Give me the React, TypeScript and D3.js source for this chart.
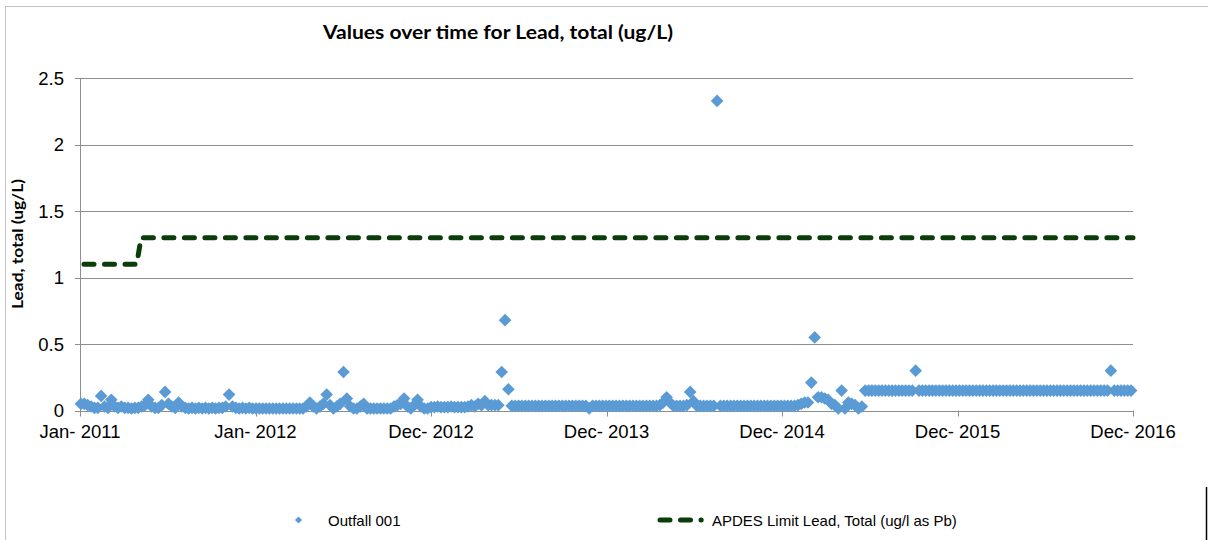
import React from "react";
import * as d3 from "d3";

// ---- Data ----
const TITLE = "Values over time for Lead, total (ug/L)";
const Y_LABEL = "Lead, total (ug/L)";
const SERIES_OUTFALL = "Outfall 001";
const SERIES_LIMIT = "APDES Limit Lead, Total (ug/l as Pb)";

// weekly samples starting 2011-01-03
const sampleStart = "2011-01-03";
const sampleStepDays = 7;

const vals2011 = [
  0.05, 0.05, 0.04, 0.03, 0.02, 0.02, 0.11, 0.03, 0.02, 0.08,
  0.03, 0.02, 0.03, 0.02, 0.02, 0.015, 0.02, 0.02, 0.03, 0.04,
  0.08, 0.03, 0.02, 0.02, 0.04, 0.14, 0.05, 0.03, 0.02, 0.06,
  0.03, 0.02, 0.015, 0.02, 0.015, 0.02, 0.015, 0.02, 0.015, 0.02,
  0.015, 0.02, 0.02, 0.03, 0.12, 0.03, 0.02, 0.015, 0.02, 0.015,
  0.02, 0.015,
];
const vals2012 = [
  0.015, 0.015, 0.015, 0.015, 0.015, 0.015, 0.015, 0.015, 0.015, 0.015,
  0.015, 0.015, 0.015, 0.015, 0.015, 0.03, 0.06, 0.03, 0.015, 0.03,
  0.05, 0.12, 0.04, 0.015, 0.03, 0.05, 0.29, 0.09, 0.03, 0.015,
  0.015, 0.03, 0.05, 0.015, 0.015, 0.015, 0.015, 0.015, 0.015, 0.015,
  0.015, 0.03, 0.04, 0.05, 0.09, 0.03, 0.015, 0.04, 0.08, 0.03,
  0.015, 0.015,
];
const vals2013 = [
  0.025, 0.025, 0.03, 0.025, 0.025, 0.025, 0.03, 0.025, 0.025, 0.025,
  0.025, 0.03, 0.04, 0.03, 0.05, 0.04, 0.07, 0.04, 0.04, 0.04,
  0.04, 0.29, 0.68, 0.16, 0.035, 0.035, 0.035, 0.035, 0.035, 0.035,
  0.035, 0.035, 0.035, 0.035, 0.035, 0.035, 0.035, 0.035, 0.035, 0.035,
  0.035, 0.035, 0.035, 0.035, 0.035, 0.035, 0.035, 0.015, 0.035, 0.035,
  0.035, 0.035,
];
const vals2014 = [
  0.035, 0.035, 0.035, 0.035, 0.035, 0.035, 0.035, 0.035, 0.035, 0.035,
  0.035, 0.035, 0.035, 0.035, 0.035, 0.035, 0.04, 0.06, 0.1, 0.06,
  0.035, 0.035, 0.035, 0.035, 0.04, 0.14, 0.07, 0.035, 0.035, 0.035,
  0.035, 0.035, 0.035, 2.33, 0.035, 0.035, 0.035, 0.035, 0.035, 0.035,
  0.035, 0.035, 0.035, 0.035, 0.035, 0.035, 0.035, 0.035, 0.035, 0.035,
  0.035, 0.035,
];
const vals2015 = [
  0.035, 0.035, 0.035, 0.035, 0.035, 0.04, 0.05, 0.06, 0.06, 0.21,
  0.55, 0.1, 0.1, 0.09, 0.08, 0.05, 0.04, 0.015, 0.15, 0.015,
  0.06, 0.05, 0.04, 0.015, 0.03, 0.15, 0.15, 0.15, 0.15, 0.15,
  0.15, 0.15, 0.15, 0.15, 0.15, 0.15, 0.15, 0.15, 0.15, 0.15,
  0.3, 0.15, 0.15, 0.15, 0.15, 0.15, 0.15, 0.15, 0.15, 0.15,
  0.15, 0.15,
];
const vals2016 = [
  0.15, 0.15, 0.15, 0.15, 0.15, 0.15, 0.15, 0.15, 0.15, 0.15,
  0.15, 0.15, 0.15, 0.15, 0.15, 0.15, 0.15, 0.15, 0.15, 0.15,
  0.15, 0.15, 0.15, 0.15, 0.15, 0.15, 0.15, 0.15, 0.15, 0.15,
  0.15, 0.15, 0.15, 0.15, 0.15, 0.15, 0.15, 0.15, 0.15, 0.15,
  0.15, 0.15, 0.15, 0.15, 0.15, 0.15, 0.3, 0.15, 0.15, 0.15,
  0.15, 0.15, 0.15,
];

const limitDates = ["2011-01-01", "2011-04-29", "2011-05-08", "2016-12-30"];
const limitValues = [1.1, 1.1, 1.3, 1.3];

const xDomain = ["2011-01-01", "2016-12-30"];
const xTickDates = ["2011-01-01", "2012-01-01", "2012-12-31", "2013-12-31", "2014-12-31", "2015-12-31", "2016-12-30"];
const yTicks = [0, 0.5, 1, 1.5, 2, 2.5];
const yTickLabels = ["0", "0.5", "1", "1.5", "2", "2.5"];

// ---- Helpers ----
const parse = d3.utcParse("%Y-%m-%d");
const fmt = d3.utcFormat("%b- %Y");

export default function App() {
  const W = 1208, H = 540;
  const left = 80, right = 1133, top = 78.3, bottom = 410.5;

  const x = d3.scaleUtc().domain(xDomain.map((d) => parse(d) as Date)).range([left, right]);
  const y = d3.scaleLinear().domain([0, 2.5]).range([bottom, top]);

  const allVals = [...vals2011, ...vals2012, ...vals2013, ...vals2014, ...vals2015, ...vals2016];
  const start = parse(sampleStart) as Date;
  const samples = allVals.map((v, i) => ({ date: d3.utcDay.offset(start, i * sampleStepDays), value: v }));

  const limit = limitDates.map((d, i) => ({ date: parse(d) as Date, value: limitValues[i] }));
  const line = d3.line<{ date: Date; value: number }>().x((d) => x(d.date)).y((d) => y(d.value));

  const diamond = d3.symbol().type(d3.symbolSquare).size(80)() as string;
  const legendDiamond = d3.symbol().type(d3.symbolSquare).size(26)() as string;

  const grid = "#8e8e8e";
  const blue = "#5B9BD5";
  const green = "#0a3d0a";
  const sans = "'Liberation Sans', Arial, sans-serif";
  const bold = "Lato, 'Open Sans', sans-serif";

  return (
    <svg width={W} height={H} style={{ position: "absolute", left: 0, top: 0, background: "#fff" }}>
      <rect x={0} y={0} width={W} height={H} fill="#fff" />
      <rect x={5.5} y={6.5} width={1300} height={700} fill="none" stroke="#c4c4c4" strokeWidth={1} />
      <line x1={1206.5} x2={1206.5} y1={487} y2={540} stroke="#000" strokeWidth={1.5} />

      <text x={498} y={38.5} textAnchor="middle" fontFamily={bold} fontWeight={700} fontSize={18}
        textLength={350} lengthAdjust="spacingAndGlyphs" fill="#000">{TITLE}</text>

      {/* gridlines */}
      {yTicks.slice(1).map((t) => (
        <line key={t} x1={left} x2={right} y1={Math.round(y(t)) + 0.5} y2={Math.round(y(t)) + 0.5} stroke={grid} strokeWidth={1} />
      ))}
      {/* axes */}
      <line x1={left + 0.5} x2={left + 0.5} y1={top} y2={bottom + 0.5} stroke={grid} strokeWidth={1} />
      <line x1={left} x2={right} y1={Math.round(bottom) + 0.5} y2={Math.round(bottom) + 0.5} stroke={grid} strokeWidth={1} />
      {yTicks.map((t, i) => (
        <g key={t}>
          <line x1={left - 5} x2={left} y1={Math.round(y(t)) + 0.5} y2={Math.round(y(t)) + 0.5} stroke={grid} />
          <text x={64} y={y(t) + 6.5} textAnchor="end" fontFamily={sans} fontSize={18.5} fill="#000">{yTickLabels[i]}</text>
        </g>
      ))}
      {xTickDates.map((d) => {
        const dt = parse(d) as Date;
        const px = Math.round(x(dt)) + 0.5;
        return (
          <g key={d}>
            <line x1={px} x2={px} y1={bottom} y2={bottom + 6} stroke={grid} />
            <text x={x(dt)} y={438} textAnchor="middle" fontFamily={sans} fontSize={18.5} fill="#000">{fmt(dt)}</text>
          </g>
        );
      })}

      <text transform={`translate(23,244) rotate(-90)`} textAnchor="middle" fontFamily={bold} fontWeight={700}
        fontSize={15} textLength={130} lengthAdjust="spacingAndGlyphs" fill="#000">{Y_LABEL}</text>

      {/* limit line */}
      <path d={line(limit) as string} fill="none" stroke={green} strokeWidth={5} strokeLinecap="round"
        strokeDasharray="10,10.5" strokeDashoffset={16.5} />

      {/* points */}
      {samples.map((s, i) => (
        <path key={i} d={diamond} transform={`translate(${x(s.date)},${y(s.value)}) rotate(45)`} fill={blue} />
      ))}

      {/* legend */}
      <path d={legendDiamond} transform="translate(298.5,520) rotate(45)" fill={blue} />
      <text x={328} y={525.5} fontFamily={sans} fontSize={15} fill="#000">{SERIES_OUTFALL}</text>
      <line x1={660} x2={701.2} y1={520} y2={520} stroke={green} strokeWidth={5} strokeLinecap="round" strokeDasharray="10,10.5" />
      <text x={712} y={525.5} fontFamily={sans} fontSize={15} fill="#000">{SERIES_LIMIT}</text>
    </svg>
  );
}
